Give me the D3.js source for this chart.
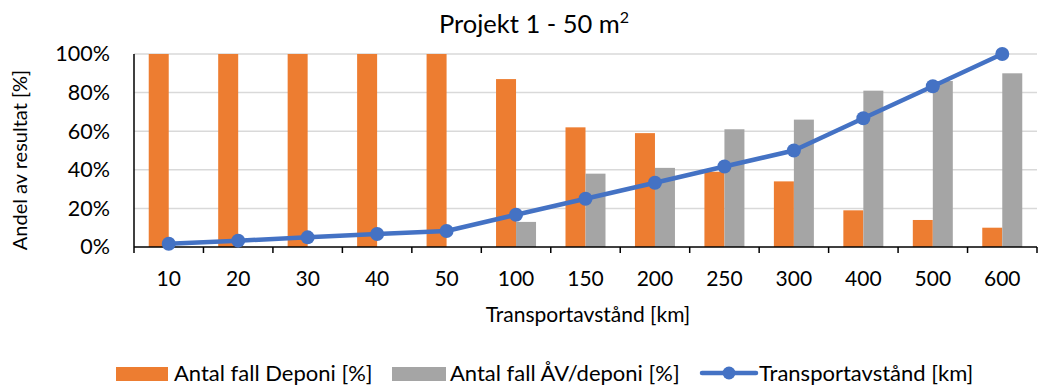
<!DOCTYPE html>
<html>
<head>
<meta charset="utf-8">
<script src="https://cdn.jsdelivr.net/npm/d3@7"></script>
<style>
  html, body { margin: 0; padding: 0; background: #fff; }
  svg { display: block; font-family: Lato, "Open Sans", sans-serif; }
</style>
</head>
<body>
<svg id="chart" width="1041" height="390"></svg>
<script>
// Transport distances (km) used as categories
const categories = ["10", "20", "30", "40", "50", "100", "150", "200", "250", "300", "400", "500", "600"];
// Share of cases ending in landfill (%)
const deponi = [100, 100, 100, 100, 100, 87, 62, 59, 39, 34, 19, 14, 10];
// Share of cases reuse/landfill (%)
const avDeponi = [0, 0, 0, 0, 0, 13, 38, 41, 61, 66, 81, 86, 90];
// Transport distance relative to the longest distance (%)
const transport = [1.7, 3.3, 5, 6.7, 8.3, 16.7, 25, 33.3, 41.7, 50, 66.7, 83.3, 100];
const yTicks = [0, 20, 40, 60, 80, 100];

const svg = d3.select("#chart");
const plotLeft = 134, plotRight = 1037, plotTop = 54, plotBottom = 247;

const x = d3.scaleBand().domain(categories).range([plotLeft, plotRight]).padding(0);
const y = d3.scaleLinear().domain([0, 100]).range([plotBottom, plotTop]);
const barW = 20;

// Gridlines
svg.append("g").selectAll("line").data(yTicks.filter(d => d > 0)).join("line")
  .attr("x1", plotLeft).attr("x2", plotRight)
  .attr("y1", d => y(d)).attr("y2", d => y(d))
  .attr("stroke", "#d9d9d9").attr("stroke-width", 1.5);

// Bars
svg.append("g").selectAll("rect").data(categories).join("rect")
  .attr("x", (d) => x(d) + x.bandwidth() / 2 - barW)
  .attr("width", barW)
  .attr("y", (d, i) => y(deponi[i]))
  .attr("height", (d, i) => y(0) - y(deponi[i]))
  .attr("fill", "#ed7d31");

svg.append("g").selectAll("rect").data(categories).join("rect")
  .attr("x", (d) => x(d) + x.bandwidth() / 2)
  .attr("width", barW)
  .attr("y", (d, i) => y(avDeponi[i]))
  .attr("height", (d, i) => y(0) - y(avDeponi[i]))
  .attr("fill", "#a5a5a5");

// Y axis
const yAxis = d3.axisLeft(y).tickValues(yTicks).tickFormat(d => d + "%").tickSize(0).tickPadding(24);
const gy = svg.append("g").attr("transform", `translate(${plotLeft},0)`).call(yAxis);
gy.select(".domain").attr("stroke", "#000").attr("stroke-width", 1.5).attr("d", `M0,${plotTop}V${plotBottom}`);
gy.selectAll("text").attr("font-size", 21.5).attr("fill", "#000").attr("font-family", "Lato, 'Open Sans', sans-serif");

// X axis with ticks at category boundaries
const gx = svg.append("g").attr("transform", `translate(0,${plotBottom})`);
gx.append("line").attr("x1", plotLeft).attr("x2", plotRight).attr("stroke", "#000").attr("stroke-width", 1.5);
const bounds = categories.map(c => x(c)).concat([plotRight]);
gx.selectAll(".tk").data(bounds).join("line").attr("class", "tk")
  .attr("x1", d => d).attr("x2", d => d).attr("y1", 0).attr("y2", 6)
  .attr("stroke", "#000").attr("stroke-width", 1.5);
gx.selectAll("text").data(categories).join("text")
  .attr("x", d => x(d) + x.bandwidth() / 2).attr("y", 39)
  .attr("text-anchor", "middle").attr("font-size", 21).attr("fill", "#000")
  .text(d => d);

// Line series
const line = d3.line().x((d, i) => x(categories[i]) + x.bandwidth() / 2).y(d => y(d));
svg.append("path").datum(transport).attr("d", line)
  .attr("fill", "none").attr("stroke", "#4472c4").attr("stroke-width", 4.5).attr("stroke-linejoin", "round");
svg.append("g").selectAll("circle").data(transport).join("circle")
  .attr("cx", (d, i) => x(categories[i]) + x.bandwidth() / 2).attr("cy", d => y(d))
  .attr("r", 7).attr("fill", "#4472c4");

// Titles
const title = svg.append("text").attr("x", 534).attr("y", 33).attr("text-anchor", "middle")
  .attr("font-size", 25.5).attr("fill", "#000");
title.append("tspan").text("Projekt 1 - 50 m");
title.append("tspan").attr("font-size", 16).attr("dy", -10).text("2");

svg.append("text").attr("transform", `translate(27,160) rotate(-90)`)
  .attr("text-anchor", "middle").attr("font-size", 20).attr("fill", "#000")
  .text("Andel av resultat [%]");

svg.append("text").attr("x", 588).attr("y", 322).attr("text-anchor", "middle")
  .attr("font-size", 21).attr("fill", "#000").text("Transportavstånd [km]");

// Legend
const lg = svg.append("g").attr("font-size", 22).attr("fill", "#000");
lg.append("rect").attr("x", 116).attr("y", 367).attr("width", 52).attr("height", 14).attr("fill", "#ed7d31");
lg.append("text").attr("x", 174).attr("y", 381).text("Antal fall Deponi [%]");
lg.append("rect").attr("x", 392).attr("y", 367).attr("width", 54).attr("height", 14).attr("fill", "#a5a5a5");
lg.append("text").attr("x", 450).attr("y", 381).text("Antal fall ÅV/deponi [%]");
lg.append("line").attr("x1", 702).attr("x2", 756).attr("y1", 373).attr("y2", 373)
  .attr("stroke", "#4472c4").attr("stroke-width", 4.5).attr("stroke-linecap", "round");
lg.append("circle").attr("cx", 729).attr("cy", 373).attr("r", 6.5).attr("fill", "#4472c4");
lg.append("text").attr("x", 759).attr("y", 381).text("Transportavstånd [km]");
</script>
</body>
</html>
